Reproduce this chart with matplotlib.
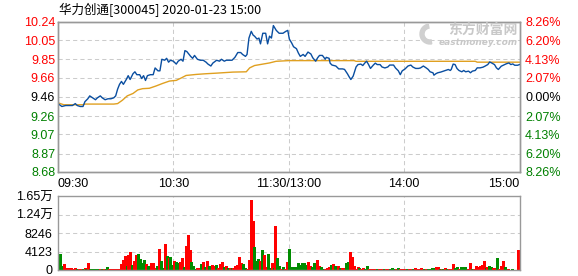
import numpy as np
import matplotlib
matplotlib.use("Agg")
import matplotlib.pyplot as plt
from matplotlib.patches import Wedge

plt.rcParams["font.family"] = ["Liberation Sans", "Noto Sans CJK SC"]

# ---- values ----
title = "华力创通[300045] 2020-01-23 15:00"
prev_close = 9.46
price_lo, price_hi = 8.68, 10.24

price_ticks = [8.68, 8.87, 9.07, 9.26, 9.46, 9.66, 9.85, 10.05, 10.24]
price_labels = ["8.68", "8.87", "9.07", "9.26", "9.46", "9.66", "9.85", "10.05", "10.24"]
pct_labels = ["8.26%", "6.20%", "4.13%", "2.07%", "0.00%", "2.07%", "4.13%", "6.20%", "8.26%"]

time_ticks = [0, 60, 120, 180, 240]
time_labels = ["09:30", "10:30", "11:30/13:00", "14:00", "15:00"]

vol_ticks = [0, 4123, 8246, 12369, 16492]
vol_labels = ["0", "4123", "8246", "1.24万", "1.65万"]

# price line (minute from 09:30, price)
min_a = [0, 2, 4, 6, 7.5, 9, 10, 11.5, 13, 14,
         15.5, 16.5, 18, 19.5, 20.5, 22, 23, 24.5, 26, 27.5,
         29, 30, 31, 32, 33, 34, 35.5, 36.5, 37.5, 39,
         40, 41, 42.5, 43.5, 44.5, 45.5, 46.5, 48, 49.5, 50.5,
         52, 53, 54, 55.5, 56.5, 57.5, 58.5, 60]
val_a = [9.39, 9.36, 9.37, 9.37, 9.37, 9.39, 9.37, 9.36, 9.36, 9.41,
         9.44, 9.47, 9.45, 9.43, 9.45, 9.47, 9.45, 9.43, 9.44, 9.44,
         9.45, 9.47, 9.54, 9.59, 9.62, 9.59, 9.64, 9.68, 9.64, 9.70,
         9.72, 9.69, 9.69, 9.65, 9.68, 9.63, 9.68, 9.69, 9.69, 9.76,
         9.73, 9.73, 9.85, 9.84, 9.86, 9.82, 9.84, 9.83]
min_b = [61.5, 62.5, 64, 65, 66, 67, 68, 69, 70, 71,
         72.5, 74, 75.5, 77, 78, 79.5, 80.5, 82.5, 84, 85,
         86.5, 87.5, 89, 90.5, 92, 93.5, 95, 96, 97.5, 98.3,
         99.3, 100.5, 101.5, 102.2, 103.5, 104.5, 105.3, 106.5, 108, 109,
         110, 111, 112, 113.5, 115, 117, 118.5, 119.5]
val_b = [9.80, 9.83, 9.85, 9.83, 9.94, 9.93, 9.905, 9.88, 9.86, 9.89,
         9.85, 9.84, 9.84, 9.82, 9.80, 9.78, 9.81, 9.84, 9.83, 9.85,
         9.83, 9.84, 9.84, 9.84, 9.87, 9.92, 9.92, 9.90, 9.88, 9.90,
         10.07, 10.14, 10.10, 10.09, 10.06, 10.07, 10.01, 10.12, 10.12, 10.01,
         10.09, 10.07, 10.20, 10.15, 10.12, 10.12, 10.14, 10.15]
min_c = [120.3, 121.5, 122.5, 124, 125, 126, 127.5, 128.5, 130, 131.5,
         132.5, 134, 135, 136, 137.5, 139, 139.5, 141, 141.5, 142.5,
         144.5, 146, 148, 149, 150.5, 151.5, 152.3, 153.5, 155, 156,
         157.5, 158.5, 159.5, 160.5, 161.5, 162.5, 164, 165, 166, 167.5,
         168.5, 170, 171.5, 172.5, 174.5, 175.5, 177, 178, 179, 180.5]
val_c = [10.06, 10.02, 9.98, 9.96, 9.915, 9.88, 9.90, 9.88, 9.925, 9.905,
         9.865, 9.83, 9.865, 9.89, 9.89, 9.85, 9.87, 9.86, 9.81, 9.79,
         9.78, 9.75, 9.75, 9.745, 9.70, 9.665, 9.64, 9.675, 9.77, 9.795,
         9.80, 9.785, 9.81, 9.83, 9.795, 9.755, 9.79, 9.81, 9.795, 9.795,
         9.77, 9.76, 9.77, 9.79, 9.79, 9.76, 9.73, 9.69, 9.73, 9.75]
min_d = [181, 182, 183.5, 184.5, 186, 187.5, 188.5, 190, 191.5, 192.5,
         193.5, 195, 195.5, 196.5, 197.5, 199, 200.5, 201.5, 203, 204,
         204.5, 205.5, 206.5, 207.5, 208.5, 210, 211, 212, 213.5, 214.5,
         215.5, 217, 218, 219.5, 221, 222, 223.5, 224.5, 225.5, 227,
         228, 229, 230.5, 231.5, 233, 234.5, 235.5, 236.5, 237.5, 239, 240]
val_d = [9.76, 9.78, 9.79, 9.77, 9.755, 9.755, 9.76, 9.78, 9.76, 9.745,
         9.72, 9.71, 9.685, 9.70, 9.71, 9.717, 9.727, 9.734, 9.744, 9.734,
         9.744, 9.80, 9.795, 9.754, 9.734, 9.72, 9.734, 9.72, 9.727, 9.71,
         9.727, 9.734, 9.761, 9.761, 9.768, 9.778, 9.795, 9.822, 9.812, 9.795,
         9.761, 9.744, 9.778, 9.788, 9.802, 9.812, 9.795, 9.802, 9.788, 9.788, 9.795]

# average price line
avg_min = [0, 3, 13, 14, 29, 31, 33.5, 36, 39, 41.5, 44, 47.5, 51, 54.5, 58,
           61.5, 64.3, 66.6, 72, 77, 82.4, 91, 97.9, 99.7, 102.2, 110, 113.4,
           120, 154, 155, 217, 218, 240]
avg_val = [9.398, 9.378, 9.378, 9.385, 9.385, 9.39, 9.425, 9.47, 9.495, 9.532,
           9.545, 9.549, 9.573, 9.600, 9.624, 9.631, 9.658, 9.682, 9.693, 9.70,
           9.706, 9.717, 9.72, 9.761, 9.785, 9.812, 9.829, 9.836, 9.836, 9.829,
           9.829, 9.82, 9.82]

# volume per minute, r = up, g = down
vol_am = [3665, 916, 1374, 458, 458, 458, 458, 229, 458, 229,
          229, 229, 229, 458, 229, 1603, 229, 229, 229, 229,
          229, 229, 229, 229, 229, 687, 229, 229, 229, 229,
          229, 229, 1374, 2290, 3207, 916, 3436, 4123, 1145, 2061,
          3436, 3665, 2520, 1603, 2290, 1374, 916, 687, 1603, 1603,
          458, 916, 4734, 2061, 458, 5726, 3207, 2749, 2978, 1145,
          2061, 1832, 1603, 1832, 2749, 687, 5268, 7788, 4352, 1832,
          916, 229, 458, 458, 1374, 1832, 687, 2061, 916, 687,
          1145, 916, 1145, 458, 1374, 1832, 687, 916, 458, 458,
          458, 458, 916, 1145, 2978, 1603, 1374, 458, 229, 2290,
          15575, 10994, 5039, 2061, 2520, 2061, 4352, 3436, 687, 3665,
          458, 1603, 458, 9849, 2749, 916, 229, 687, 229, 1832]
dir_am = ("ggrrrrrrrg" "rrgrgrgggg" "grgrggrrrr" "rrrrrgrrgr" "rggggrggrr" "rgrggrgrgg"
          "rggrrgrrrg" "ggrrgrgrgg" "rrgrrrgrgr" "grrrrrggrr" "rrgggrgrrg" "grgrggrgrr")
vol_pm = [4581, 687, 687, 229, 687, 1603, 1145, 1603, 1603, 1145,
          1832, 916, 687, 1603, 1603, 2290, 916, 687, 229, 229,
          458, 687, 1145, 1374, 916, 687, 916, 458, 458, 458,
          1603, 1832, 4123, 2978, 916, 229, 687, 458, 229, 458,
          229, 916, 229, 229, 229, 229, 229, 229, 229, 229,
          229, 229, 229, 229, 380, 229, 229, 458, 229, 229,
          229, 229, 229, 229, 229, 229, 458, 229, 229, 458,
          229, 229, 229, 229, 229, 458, 458, 687, 687, 229,
          229, 229, 458, 229, 229, 229, 1374, 458, 687, 229,
          687, 687, 687, 229, 229, 1603, 229, 229, 916, 687,
          916, 1145, 2061, 458, 687, 916, 687, 458, 458, 2749,
          229, 916, 2061, 687, 229, 229, 0, 229, 0, 0,
          4352]
dir_pm = ("gggggggggg" "rrgggrrggr" "rrgrggrgrr" "ggrrrrrgrr" "ggrrrrgrrr" "grrgggrgrr"
          "rrgrrgrrrr" "rgrggggrrg" "rgrgrrrggr" "ggggrrgrrr" "rrrgrggrrg" "rrrggrrgrr" "r")

# ---- assemble ----
px_min = np.array(min_a + min_b + min_c + min_d)
px_val = np.array(val_a + val_b + val_c + val_d)
volumes = np.array(vol_am + vol_pm)
dirs = dir_am + dir_pm
# keep first/last bar just inside the frame
vol_x = np.linspace(0.9, 239.2, len(volumes))

RED, GREEN, BLACK = "#ff0000", "#008000", "#000000"
vol_colors = [RED if d == "r" else "#008c00" for d in dirs]
label_colors = [GREEN] * 4 + [BLACK] + [RED] * 4
grid_kw = dict(color="#cccccc", lw=0.75, ls=(0, (4, 3)), zorder=0)
W, H = 578, 276

fig = plt.figure(figsize=(W / 100, H / 100), dpi=100)

# main price panel
ax = fig.add_axes([58 / W, 1 - 172 / H, 461.5 / W, 150.3 / H])
ax.set_xlim(0, 240)
ax.set_ylim(price_lo, price_hi)
for t in price_ticks[1:-1]:
    ax.axhline(t, **grid_kw)
for t in time_ticks[1:-1]:
    ax.axvline(t, **grid_kw)
ax.plot(avg_min, avg_val, color="#e0a020", lw=1.0, zorder=2)
ax.plot(px_min, px_val, color="#0a4ea0", lw=1.0, zorder=3)

ax.set_yticks(price_ticks)
ax.set_yticklabels(price_labels)
for lbl, c in zip(ax.get_yticklabels(), label_colors):
    lbl.set_color(c)
ax.set_xticks(time_ticks)
ax.set_xticklabels(time_labels)
xl = ax.get_xticklabels()
xl[0].set_ha("left")
xl[-1].set_ha("right")
ax.tick_params(axis="y", length=0, pad=2, labelsize=9)
ax.tick_params(axis="x", length=0, pad=4, labelsize=9)

ax_r = ax.twinx()
ax_r.set_ylim(price_lo, price_hi)
ax_r.set_yticks(price_ticks)
ax_r.set_yticklabels(pct_labels)
for lbl, c in zip(ax_r.get_yticklabels(), label_colors):
    lbl.set_color(c)
ax_r.tick_params(axis="y", length=0, pad=4, labelsize=9)

for a in (ax, ax_r):
    for s in a.spines.values():
        s.set_color("#999999")
        s.set_linewidth(1.0)

# volume panel
axv = fig.add_axes([58 / W, 1 - 270 / H, 461.5 / W, 74 / H])
axv.set_xlim(0, 240)
axv.set_ylim(0, vol_ticks[-1])
for t in vol_ticks[1:-1]:
    axv.axhline(t, **grid_kw)
for t in time_ticks[1:-1]:
    axv.axvline(t, **grid_kw)
axv.vlines(vol_x, 0, volumes, colors=vol_colors, lw=0.9,
           antialiased=False, zorder=2)
axv.set_xticks([])
axv.set_yticks(vol_ticks)
axv.set_yticklabels(vol_labels)
axv.tick_params(axis="y", length=0, pad=4, labelsize=9)
for s in axv.spines.values():
    s.set_color("#999999")
    s.set_linewidth(1.0)

# title and watermark
fig.text(59 / W, 1 - 9.5 / H, title, fontsize=9, va="center",
         family=["Noto Sans CJK SC", "DejaVu Sans"])
fig.text(518 / W, 1 - 30 / H, "东方财富网", fontsize=10, fontweight="bold",
         color="#c8c8c8", va="center", ha="right", family=["Noto Sans CJK SC"])
fig.text(518 / W, 1 - 42.5 / H, "eastmoney.com", fontsize=6.5, fontweight="bold",
         style="italic", color="#c8c8c8", va="center", ha="right", family=["DejaVu Sans"])
# grey swoosh of the logo
fig.patches.append(Wedge((430, H - 34), 10, 100, 280, width=4,
                         transform=None, color="#d0d0d0"))

fig.savefig("out.png", dpi=100)
